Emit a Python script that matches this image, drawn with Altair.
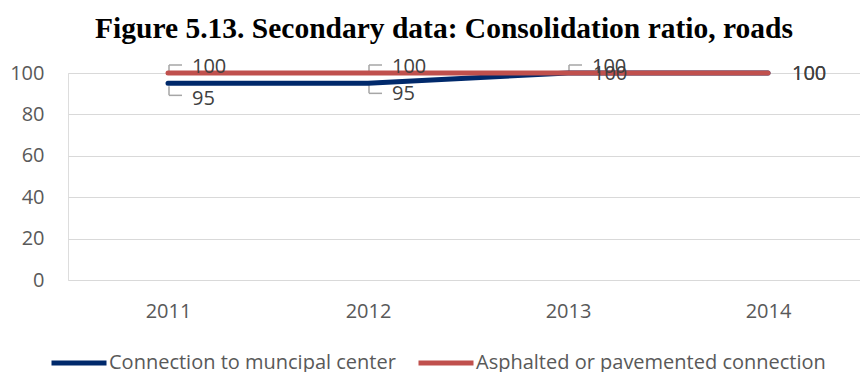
import altair as alt
import pandas as pd

years = [2011, 2012, 2013, 2014]
connection = [95, 95, 100, 100]
asphalted = [100, 100, 100, 100]
series_names = ["Connection to muncipal center", "Asphalted or pavemented connection"]
colors = ["#00296B", "#C0504D"]
y_ticks = [0, 20, 40, 60, 80, 100]

rows = []
for yr, v in zip(years, connection):
    rows.append({"year": yr, "value": v, "series": series_names[0]})
for yr, v in zip(years, asphalted):
    rows.append({"year": yr, "value": v, "series": series_names[1]})
df = pd.DataFrame(rows)

FONT = "Open Sans"
LBL = "#404040"
LEAD = "#A6A6A6"

xs = alt.Scale(domain=[2010.5, 2014.46], nice=False, zero=False)
ys = alt.Scale(domain=[0, 100], nice=False)

base = alt.Chart(df)
X = alt.X("year:Q", scale=xs, title=None,
          axis=alt.Axis(values=years, format="d", grid=False, domain=False, ticks=False,
                        labelFontSize=20, labelFont=FONT, labelColor="#595959", labelPadding=21))
Y = alt.Y("value:Q", scale=ys, title=None,
          axis=alt.Axis(values=y_ticks, grid=True, gridColor="#D9D9D9", gridWidth=1,
                        domain=False, ticks=False, labelFontSize=20, labelFont=FONT,
                        labelColor="#595959", labelPadding=24))

lines = base.mark_line(strokeWidth=5, strokeCap="round", strokeJoin="round").encode(
    x=X, y=Y,
    color=alt.Color("series:N", scale=alt.Scale(domain=series_names, range=colors),
                    sort=series_names,
                    legend=alt.Legend(title=None, orient="none", legendX=-19, legendY=260,
                                      direction="horizontal", symbolType="stroke",
                                      symbolSize=3025, symbolStrokeWidth=5,
                                      labelFontSize=20, labelFont=FONT, labelColor="#595959",
                                      labelOffset=0, columnPadding=12, labelLimit=0)),
    order=alt.Order("year:Q"),
)

def sel(series, yrs):
    yl = ",".join(str(y) for y in yrs)
    return base.transform_filter(
        f"datum.series == '{series}' && indexof([{yl}], datum.year) >= 0"
    )

enc_pt = dict(x=alt.X("year:Q", scale=xs), y=alt.Y("value:Q", scale=ys))

def label(series, yrs, dx, dy):
    return sel(series, yrs).mark_text(align="left", baseline="middle", dx=dx, dy=dy,
                                      fontSize=20, font=FONT, color=LBL).encode(
        text=alt.Text("value:Q"), **enc_pt)

def bracket(series, yrs, y_from, y_to):
    v = sel(series, yrs).mark_rule(color=LEAD, strokeWidth=1.5, xOffset=1,
                                   yOffset=y_from, y2Offset=y_to).encode(
        x=alt.X("year:Q", scale=xs), y=alt.Y("value:Q", scale=ys), y2="value:Q")
    h = sel(series, yrs).mark_rule(color=LEAD, strokeWidth=1.5, xOffset=1, x2Offset=14,
                                   yOffset=y_to, y2Offset=y_to).encode(
        x=alt.X("year:Q", scale=xs), x2="year:Q", y=alt.Y("value:Q", scale=ys), y2="value:Q")
    return v + h

red, blue = series_names[1], series_names[0]

layers = [
    bracket(red, [2011, 2012, 2013], -1, -8),
    bracket(blue, [2011], 3, 12),
    bracket(blue, [2012], 1, 10),
    lines,
    label(red, [2011, 2012, 2013], 24, -6),
    label(red, [2014], 24, 1),
    label(blue, [2011], 24, 16),
    label(blue, [2012], 24, 11),
    label(blue, [2013], 25, 1),
    label(blue, [2014], 24, 1),
]

chart = alt.layer(*layers).properties(
    width=792, height=207,
    title=alt.TitleParams("Figure 5.13. Secondary data: Consolidation ratio, roads",
                          font="Liberation Serif", fontSize=29.5, fontWeight="bold",
                          color="#000000", anchor="middle", dx=-20, offset=13),
    autosize=alt.AutoSizeParams(type="none"),
    padding={"left": 68, "top": 73, "right": 0, "bottom": 92},
).configure_view(stroke=None).configure(background="white")

chart.save("out.html", embed_options={"renderer": "svg", "actions": False})
